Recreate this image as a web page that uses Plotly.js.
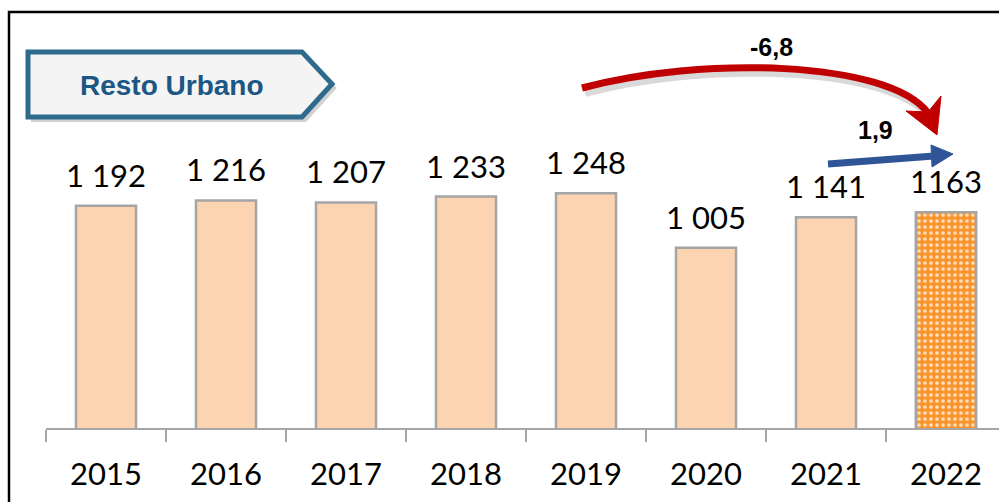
<!DOCTYPE html>
<html>
<head>
<meta charset="utf-8">
<script src="https://cdn.plot.ly/plotly-3.0.1.min.js"></script>
<style>
  html, body { margin: 0; padding: 0; background: #ffffff; }
  #chart { width: 999px; height: 502px; }
</style>
</head>
<body>
<div id="chart"></div>
<script>
// ---- data ----
const years = ['2015', '2016', '2017', '2018', '2019', '2020', '2021', '2022'];
const values = [1192, 1216, 1207, 1233, 1248, 1005, 1141, 1163];
const valueLabels = ['1 192', '1 216', '1 207', '1 233', '1 248', '1 005', '1 141', '1163'];
const highlightYear = ['2022'];
const highlightValue = [1163];
const panelTitle = 'Resto Urbano';
const changeLong = '-6,8';
const changeShort = '1,9';

// ---- geometry helpers (pixel -> paper) ----
const W = 999, H = 502;
const M = { l: 46, r: 0, t: 20, b: 74 };
const PW = W - M.l - M.r, PH = H - M.t - M.b;
const X = px => (px - M.l) / PW;
const Y = py => (H - M.b - py) / PH;
function path(pts, close) {
  return pts.map((p, i) => (i === 0 ? 'M ' : 'L ') + X(p[0]).toFixed(5) + ',' + Y(p[1]).toFixed(5)).join(' ') + (close ? ' Z' : '');
}
function curve(p0, c1, c2, p3) {
  const f = p => X(p[0]).toFixed(5) + ',' + Y(p[1]).toFixed(5);
  return 'M ' + f(p0) + ' C ' + f(c1) + ' ' + f(c2) + ' ' + f(p3);
}

const peach = '#FDD4B2';
const orange = '#F9952C';

const bars = {
  type: 'bar',
  x: years,
  y: values,
  width: 0.5,
  marker: { color: peach, line: { color: '#A5A5A5', width: 2.5 } },
  hoverinfo: 'skip'
};
const highlight = {
  type: 'bar',
  x: highlightYear,
  y: highlightValue,
  width: 0.5,
  marker: {
    color: orange,
    line: { color: '#A5A5A5', width: 2.5 },
    pattern: { shape: '.', fgcolor: '#FFDDB8', fgopacity: 1, size: 6, solidity: 0.3, fillmode: 'overlay' }
  },
  hoverinfo: 'skip'
};

function numFont() { return { family: 'Lato, "Open Sans", sans-serif', size: 31, color: '#000000' }; }

const annotations = years.map((yr, i) => ({
  x: i, y: values[i], xref: 'x', yref: 'y',
  text: valueLabels[i], showarrow: false,
  xanchor: 'center', yanchor: 'bottom', yshift: 10,
  font: numFont()
}));

annotations.push({
  x: X(172), y: Y(85), xref: 'paper', yref: 'paper',
  text: '<b>' + panelTitle + '</b>', showarrow: false,
  xanchor: 'center', yanchor: 'middle',
  font: { family: '"Liberation Sans Narrow", "Liberation Sans", Arial, sans-serif', size: 28, color: '#1B5684' }
});
annotations.push({
  x: X(771), y: Y(47), xref: 'paper', yref: 'paper',
  text: '<b>' + changeLong + '</b>', showarrow: false,
  xanchor: 'center', yanchor: 'middle',
  font: { family: '"Liberation Sans", Arial, sans-serif', size: 25, color: '#000000' }
});
annotations.push({
  x: X(875), y: Y(130), xref: 'paper', yref: 'paper',
  text: '<b>' + changeShort + '</b>', showarrow: false,
  xanchor: 'center', yanchor: 'middle',
  font: { family: '"Liberation Sans", Arial, sans-serif', size: 25, color: '#000000' }
});

const shapes = [
  // outer frame
  { type: 'path', xref: 'paper', yref: 'paper',
    path: path([[9, 12], [1030, 12], [1030, 530], [9, 530]], true),
    line: { color: '#000000', width: 2.5 }, fillcolor: 'rgba(0,0,0,0)', layer: 'below' },
  // title box shadow
  { type: 'path', xref: 'paper', yref: 'paper',
    path: path([[31, 55], [306, 55], [337, 88], [306, 122], [31, 122]], true),
    line: { color: 'rgba(0,0,0,0)', width: 0 }, fillcolor: 'rgba(0,0,0,0.18)', layer: 'below' },
  // title box
  { type: 'path', xref: 'paper', yref: 'paper',
    path: path([[28, 52], [302, 52], [332, 84], [302, 117], [28, 117]], true),
    line: { color: '#2E6A8C', width: 5 }, fillcolor: '#F4F4F4', layer: 'below' },
  // red curve shadow
  { type: 'path', xref: 'paper', yref: 'paper',
    path: curve([585, 93], [703, 61], [891, 65], [931, 118]),
    line: { color: 'rgba(0,0,0,0.15)', width: 8 }, fillcolor: 'rgba(0,0,0,0)' },
  // red curve
  { type: 'path', xref: 'paper', yref: 'paper',
    path: curve([582, 88], [700, 56], [888, 60], [928, 113]),
    line: { color: '#C00000', width: 7 }, fillcolor: 'rgba(0,0,0,0)' },
  // red arrow head
  { type: 'path', xref: 'paper', yref: 'paper',
    path: path([[941, 96], [937, 135], [906, 111], [928, 112]], true),
    line: { color: '#C00000', width: 1 }, fillcolor: '#C00000' },
  // blue shaft
  { type: 'line', xref: 'paper', yref: 'paper',
    x0: X(828), y0: Y(164), x1: X(934), y1: Y(156),
    line: { color: '#2F5597', width: 7 } },
  // blue head
  { type: 'path', xref: 'paper', yref: 'paper',
    path: path([[931, 145], [953, 154], [932, 167]], true),
    line: { color: '#2F5597', width: 1 }, fillcolor: '#2F5597' }
];

const layout = {
  width: W, height: H,
  margin: M,
  barmode: 'overlay',
  paper_bgcolor: '#ffffff', plot_bgcolor: '#ffffff',
  showlegend: false,
  xaxis: {
    type: 'category',
    categoryorder: 'array', categoryarray: years,
    range: [-0.5, -0.5 + PW / 120],
    showline: true, linecolor: '#A6A6A6', linewidth: 1.5,
    ticks: 'outside', tickson: 'boundaries', ticklen: 12, tickcolor: '#A6A6A6', tickwidth: 1.5,
    showgrid: false, zeroline: false,
    tickfont: numFont(),
    ticklabelstandoff: 18,
    fixedrange: true
  },
  yaxis: {
    range: [200, 200 + PH / 0.224],
    showticklabels: false, ticks: '', showline: false, showgrid: false, zeroline: false, fixedrange: true
  },
  annotations: annotations,
  shapes: shapes
};

Plotly.newPlot('chart', [bars, highlight], layout, { displayModeBar: false, staticPlot: true });
</script>
</body>
</html>
